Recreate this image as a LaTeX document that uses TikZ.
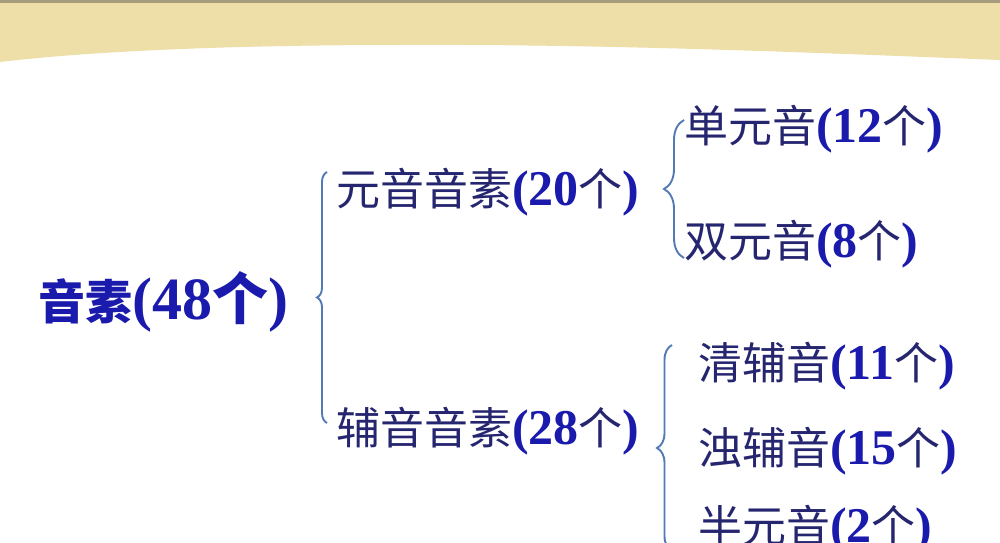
\documentclass[tikz,border=0pt]{standalone}
\usepackage{fontspec}
\setmainfont{Liberation Serif}
\newfontfamily\cjk{Noto Sans CJK SC}
\usetikzlibrary{decorations.pathreplacing}
\definecolor{band}{RGB}{238,222,168}
\definecolor{bandline}{RGB}{165,155,125}
\definecolor{navy}{RGB}{38,38,112}
\definecolor{ink}{RGB}{26,26,172}
\definecolor{bracecol}{RGB}{84,122,182}
\newcommand\leaf[2]{{\color{navy}\fontsize{44}{44}\selectfont\cjk #1}{\color{ink}\fontsize{50}{50}\selectfont\bfseries(#2{\color{navy}\fontsize{44}{44}\selectfont\cjk\mdseries 个})}}
\begin{document}
\begin{tikzpicture}[x=1pt,y=-1pt,
    txt/.style={anchor=base west,inner sep=0pt},
    br/.style={draw=bracecol,line width=1.9pt,decorate,decoration={brace,amplitude=#1}}]
  \useasboundingbox(0,0)rectangle(1000,542);
  \fill[white](0,0)rectangle(1000,542);
  \fill[band](0,0)--(1000,0)--(1000,60)
    ..controls(800,52)and(600,44)..(400,45)
    ..controls(250,45)and(100,50)..(0,62)--cycle;
  \draw[bandline,line width=3pt](0,1)--(1000,1);

  \node[txt](root) at (38,319)
    {\color{ink}\bfseries{\fontsize{47}{47}\selectfont\cjk 音素}{\fontsize{60}{60}\selectfont(48{\fontsize{56}{56}\selectfont\cjk 个})}};
  \node[txt](vowel) at (336,205){\leaf{元音音素}{20}};
  \node[txt](cons) at (336,444){\leaf{辅音音素}{28}};
  \node[txt](mono) at (684,142){\leaf{单元音}{12}};
  \node[txt](diph) at (684,257){\leaf{双元音}{8}};
  \node[txt](unv) at (698,379){\leaf{清辅音}{11}};
  \node[txt](vcd) at (698,464){\leaf{浊辅音}{15}};
  \node[txt](semi) at (698,542){\leaf{半元音}{2}};

  \coordinate(B1) at (327,423);
  \coordinate(T1) at (327,172);
  \coordinate(B2) at (684,258);
  \coordinate(T2) at (684,120);
  \coordinate(B3) at (672,551);
  \coordinate(T3) at (672,345);
  \draw[br=10pt](B1)--(T1);
  \draw[br=20pt](B2)--(T2);
  \draw[br=15pt](B3)--(T3);
\end{tikzpicture}
\end{document}
